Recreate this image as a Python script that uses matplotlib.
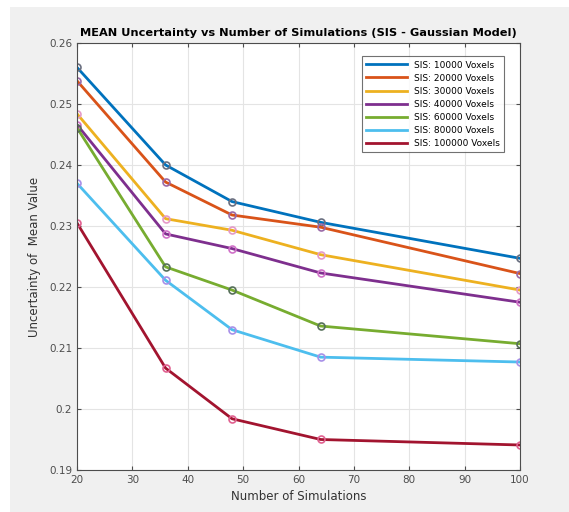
import matplotlib
matplotlib.use("Agg")
import matplotlib.pyplot as plt
import numpy as np

n_sims = [20, 36, 48, 64, 100]
labels = ["SIS: 10000 Voxels", "SIS: 20000 Voxels", "SIS: 30000 Voxels",
          "SIS: 40000 Voxels", "SIS: 60000 Voxels", "SIS: 80000 Voxels",
          "SIS: 100000 Voxels"]
v10000 = [0.2560, 0.2400, 0.2340, 0.2306, 0.2247]
v20000 = [0.2538, 0.2372, 0.2318, 0.2298, 0.2222]
v30000 = [0.2484, 0.2312, 0.2293, 0.2253, 0.2195]
v40000 = [0.2466, 0.2287, 0.2263, 0.2223, 0.2175]
v60000 = [0.2461, 0.2233, 0.2195, 0.2136, 0.2107]
v80000 = [0.2370, 0.2211, 0.2130, 0.2085, 0.2077]
v100000 = [0.2305, 0.2067, 0.1984, 0.1950, 0.1941]
series = [v10000, v20000, v30000, v40000, v60000, v80000, v100000]

line_colors = [(0, 0.447, 0.741), (0.85, 0.325, 0.098), (0.929, 0.694, 0.125),
               (0.494, 0.184, 0.556), (0.466, 0.674, 0.188), (0.301, 0.745, 0.933),
               (0.635, 0.078, 0.184)]
# marker colours differ from the lines in the original
marker_colors = ["#6a6f80", "#9a6aa8", "#e59ac8", "#d070c8", "#56705a", "#a890e8", "#e06090"]

fig = plt.figure(figsize=(5.69, 5.12), dpi=100, facecolor="white")
# grey window background, with a thin white margin top/left
fig.patches.append(plt.Rectangle((10 / 569, 0), 1, 1 - 7 / 512, transform=fig.transFigure,
                                 facecolor="#f0f0f0", edgecolor="none", zorder=-10))
ax = fig.add_axes([77 / 569, 1 - 470 / 512, (520 - 77) / 569, (470 - 43) / 512])

for vals, lab, lc, mc in zip(series, labels, line_colors, marker_colors):
    ax.plot(n_sims, vals, color=lc, lw=2, label=lab)
    ax.plot(n_sims, vals, "o", ms=5, mfc="none", mec=mc, mew=1.2)

ax.set_xlim(20, 100)
ax.set_ylim(0.19, 0.26)
ax.set_xticks(np.arange(20, 101, 10))
yt = [0.19, 0.2, 0.21, 0.22, 0.23, 0.24, 0.25, 0.26]
ax.set_yticks(yt)
ax.set_yticklabels([("%g" % t) for t in yt])
ax.grid(True, color="#e4e4e4", lw=0.8)
ax.set_axisbelow(True)
ax.tick_params(direction="in", top=True, right=True, labelsize=7.5, colors="#4d4d4d",
               length=3)
for s in ax.spines.values():
    s.set_color("#4d4d4d")
    s.set_linewidth(0.8)

ax.set_xlabel("Number of Simulations", fontsize=8.5, color="#333333", labelpad=4)
ax.set_ylabel("Uncertainty of  Mean Value", fontsize=8.5, color="#333333", labelpad=6)
ax.set_title("MEAN Uncertainty vs Number of Simulations (SIS - Gaussian Model)",
             fontsize=8.2, fontweight="bold", pad=5)

leg = ax.legend(loc="upper right", fontsize=6.5, handlelength=4.5, frameon=True,
                fancybox=False, borderpad=0.5, labelspacing=0.45,
                bbox_to_anchor=(0.975, 0.98))
leg.get_frame().set_edgecolor("#4d4d4d")
leg.get_frame().set_linewidth(0.8)

fig.savefig("out.png", dpi=100, facecolor=fig.get_facecolor())
